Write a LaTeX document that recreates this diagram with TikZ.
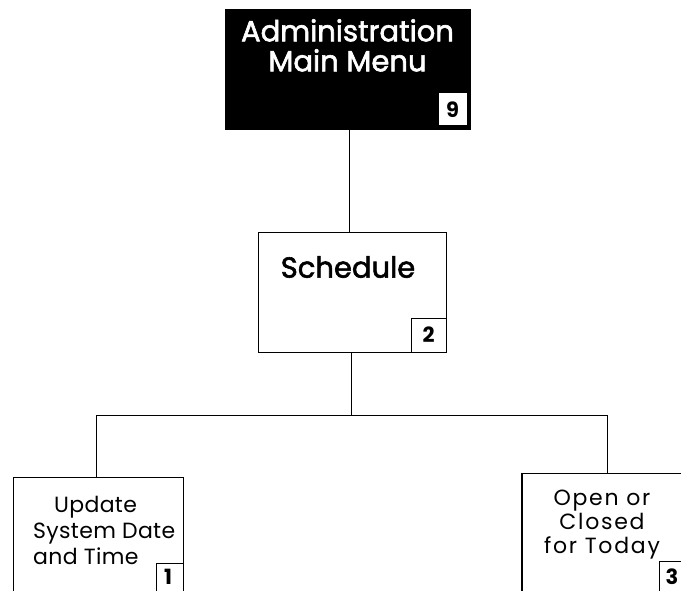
\documentclass[tikz,border=0pt]{standalone}
\usepackage{fontspec}
\setmainfont{Poppins}
\newfontfamily\headfont[FakeBold=2]{Poppins}
\newfontfamily\leftfont[LetterSpace=1.5]{Poppins}
\newfontfamily\rightfont[LetterSpace=8]{Poppins}
\begin{document}
\begin{tikzpicture}[x=1pt,y=-1pt,
  box/.style={draw=black,line width=1pt,inner sep=0pt,rectangle},
  numbox/.style={draw=black,line width=1pt,fill=white,inner sep=0pt,rectangle},
  digit/.style={inner sep=0pt,font=\fontsize{21}{21}\selectfont\bfseries},
  conn/.style={draw=black,line width=1pt},
  bigtext/.style={font=\headfont\fontsize{29}{30}\selectfont,inner sep=0pt,align=center},
  lefttextstyle/.style={font=\leftfont\fontsize{22}{26}\selectfont,inner sep=0pt},
  righttextstyle/.style={font=\rightfont\fontsize{22}{24}\selectfont,inner sep=0pt}]
\useasboundingbox (0,0) rectangle (681,591);
\clip (0,0) rectangle (681,591);
% top box
\node[box,fill=black,minimum width=245pt,minimum height=120pt] (top) at (347.5,70) {};
\node[bigtext,text=white,anchor=north] (toptext) at (347.5,19) {Administration\\Main Menu};
\node[numbox,minimum width=29pt,minimum height=33pt] (n9) at (452.5,109.5) {};
\node[digit] (d9) at (n9) {9};
% schedule
\node[box,minimum width=188pt,minimum height=119pt] (sched) at (352,292.5) {};
\node[bigtext,anchor=north] (schedtext) at (348,256) {Schedule};
\node[numbox,minimum width=35pt,minimum height=34pt] (n2) at (428.5,335) {};
\node[digit] (d2) at (n2) {2};
% lower left
\node[box,minimum width=170pt,minimum height=143pt] (left) at (98,548.5) {};
\node[numbox,minimum width=27pt,minimum height=40pt] (n1) at (169.5,583) {};
\node[digit] (d1) at (168,577) {1};
\node[lefttextstyle,align=left,anchor=base west] (lefttext) at (33,564) {\hspace*{21pt}Update\\System Date\\and Time};
% lower right
\node[box,minimum width=178pt,minimum height=147pt] (right) at (611,546.5) {};
\draw[line width=2pt] (right.north west) -- (right.south west);
\node[numbox,minimum width=40pt,minimum height=40pt] (n3) at (679,581) {};
\node[digit] (d3) at (672,577) {3};
\node[righttextstyle,align=center,anchor=base] (righttext) at (602,553) {Open or\\Closed\\for Today};
% connectors
\coordinate (jl) at (96,415);
\coordinate (jr) at (607,415);
\coordinate (jm) at (351,415);
\draw[conn] (top.south -| 349,0) -- (sched.north -| 349,0);
\draw[conn] (sched.south -| jm) -- (jm);
\draw[conn] (jl) -- (jr);
\draw[conn] (jl) -- (jl |- left.north);
\draw[conn] (jr) -- (jr |- right.north);
\end{tikzpicture}
\end{document}
